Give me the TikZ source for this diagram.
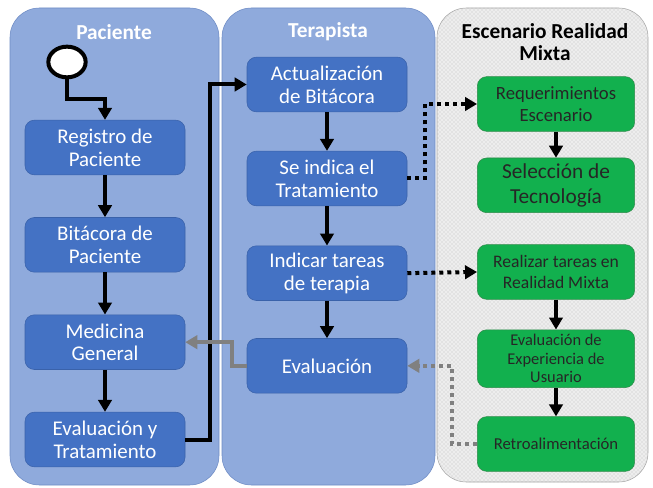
\documentclass[tikz,border=0pt]{standalone}
\usepackage{fontspec}
\setmainfont{Carlito}
\usetikzlibrary{positioning,arrows.meta,patterns,shapes.geometric}

\definecolor{lanefill}{HTML}{8FAADC}
\definecolor{laneline}{HTML}{6D8BC4}
\definecolor{boxfill}{HTML}{4472C4}
\definecolor{boxline}{HTML}{3A62AA}
\definecolor{greenfill}{HTML}{12B04E}
\definecolor{greenline}{HTML}{2E8B4A}
\definecolor{arrowgray}{HTML}{808080}

\tikzset{
>={Triangle[length=9pt,width=10pt]},
  paso/.style={
    rectangle,
    rounded corners=7pt,
    fill=boxfill,
    draw=boxline, thin,
    text=white,
    minimum width=120pt,
    minimum height=41pt,
    align=center,
    font=\fontsize{15.7}{17}\selectfont},
  pasoverde/.style={paso, fill=greenfill, draw=greenline,
    text=black!85, minimum width=118pt},
  flecha/.style={draw, line width=3pt, ->},
  punteada/.style={flecha, dash pattern=on 3pt off 3pt},
  gris/.style={draw=arrowgray, line width=3pt, ->},
  titulo/.style={font=\bfseries\fontsize{16}{16}\selectfont, text=white, align=center},
  carril/.style={fill=lanefill, draw=laneline, rounded corners=22pt},
  escenario/.style={draw=gray!70, rounded corners=22pt,
    preaction={fill=gray!14}, pattern=crosshatch dots, pattern color=gray!50},
}

\begin{document}
\begin{tikzpicture}
[x=0.75pt, y=-0.75pt]
    \useasboundingbox (0,0) rectangle (653,488);

    % carriles
    \draw[carril] (10,8) rectangle (219,485);
    \draw[carril] (222,8) rectangle (435,485);
    \draw[escenario] (437,8) rectangle (648,482);

    \node [titulo] (tpac) at (114,32) {Paciente};
    \node [titulo] (tter) at (328,32) {Terapista};
    \node [titulo, text=black] (tesc) at (545,42) {Escenario Realidad\\Mixta};

    % paciente
    \node [ellipse, draw, line width=3pt, fill=white, minimum width=28pt, minimum height=23pt,
           inner sep=0pt] (inicio) at (67,62) {};
    \node [paso] (registro) at (105,147.5) {Registro de\\Paciente};
    \node [paso, below of=registro, node distance=73pt] (bitpac) {Bitácora de\\Paciente};
    \node [paso, below of=bitpac, node distance=73pt] (medgen) {Medicina\\General};
    \node [paso, below of=medgen, node distance=73pt] (evaltrat) {Evaluación y\\Tratamiento};

    % terapista
    \node [paso] (actbit) at (327,84.5) {Actualización\\de Bitácora};
    \node [paso, below of=actbit, node distance=70.5pt] (indica) {Se indica el\\Tratamiento};
    \node [paso, below of=indica, node distance=71pt] (tareas) {Indicar tareas\\de terapia};
    \node [paso, below of=tareas, node distance=69.5pt] (evalter) {Evaluación};

    % escenario realidad mixta
    \node [pasoverde, font=\fontsize{14}{16}\selectfont] (req) at (556,104) {Requerimientos\\Escenario};
    \node [pasoverde, below of=req, node distance=61pt, font=\fontsize{16}{19}\selectfont] (tecno) {Selección de\\Tecnología};
    \node [pasoverde, below of=tecno, node distance=65pt, font=\fontsize{13.2}{16}\selectfont] (realizar) {Realizar tareas en\\Realidad Mixta};
    \node [pasoverde, below of=realizar, node distance=65pt, font=\fontsize{12.3}{14}\selectfont] (evalexp) {Evaluación de\\Experiencia de\\Usuario};
    \node [pasoverde, below of=evalexp, node distance=64pt, font=\fontsize{12.5}{14}\selectfont] (retro) {Retroalimentación};

    \draw[flecha] (inicio.south) -- +(0,20) -| (registro.north);
    \draw[flecha] (registro) -- (bitpac);
    \draw[flecha] (bitpac) -- (medgen);
    \draw[flecha] (medgen) -- (evaltrat);
    \draw[flecha] (evaltrat.east) -- +(25,0) |- (actbit.west);
    \draw[flecha] (actbit) -- (indica);
    \draw[flecha] (indica) -- (tareas);
    \draw[flecha] (tareas) -- (evalter);
    \draw[punteada] (indica.east) -- +(18,0) |- (req.west);
    \draw[punteada] (tareas.east) -- (realizar.west);
    \draw[flecha] (req) -- (tecno);
    \draw[flecha] (realizar) -- (evalexp);
    \draw[flecha] (evalexp) -- (retro);
    \draw[gris, dash pattern=on 3pt off 3pt] (retro.west) -- +(-25,0) |- (evalter.east);
    \draw[gris] (evalter.west) -- +(-15,0) |- (medgen.east);

\end{tikzpicture}
\end{document}
